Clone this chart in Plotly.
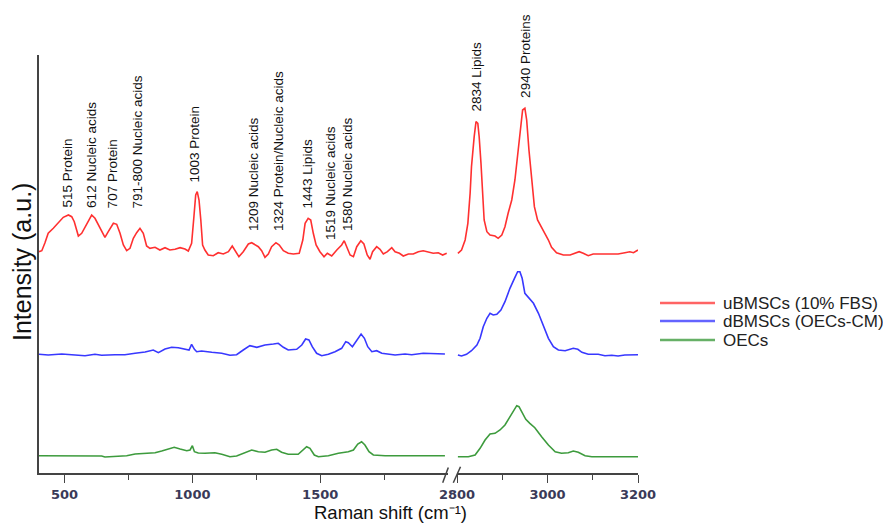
import plotly.graph_objects as go

# ---------------- data (intensity in arbitrary units) ----------------
red_left_x = [400, 411, 423, 436, 456, 476, 495, 515, 528, 538, 554, 567, 580, 593, 606, 619, 632, 645, 658, 671,
              691, 704, 717, 730, 743, 756, 769, 782, 795, 808, 821, 834, 854, 873, 893, 912, 932, 952, 971, 984,
              997, 1006, 1013, 1019, 1026, 1033, 1040, 1049, 1062, 1082, 1101, 1121, 1141, 1156, 1167, 1182, 1199,
              1219, 1232, 1245, 1258, 1271, 1284, 1297, 1310, 1327, 1340, 1356, 1375, 1395, 1418, 1432, 1441, 1453,
              1463, 1473, 1484, 1499, 1515, 1528, 1545, 1565, 1584, 1594, 1604, 1617, 1630, 1643, 1659, 1671, 1684,
              1695, 1705, 1721, 1734, 1747, 1763, 1780, 1793, 1810, 1825, 1845, 1864, 1884, 1903, 1923, 1942, 1962,
              1979, 1995]
red_left_y = [221.3, 222.3, 230, 239.7, 244.7, 250.3, 255.7, 258, 256.3, 251.3, 237, 239.7, 246.3, 253, 258, 254.7,
              248, 241.3, 235.7, 241.3, 249.7, 248.7, 239.7, 228, 222.3, 224.7, 234.7, 240.3, 244.7, 239.7, 227,
              224.7, 225.7, 223, 225.3, 223, 223.7, 225.3, 224, 222, 229.7, 256.3, 278, 281.3, 273, 253, 228, 223,
              218, 217.3, 220.3, 219, 221.3, 227, 222.3, 216.3, 221.3,
              229, 230.3, 228, 226.3, 222.3, 215.7, 219, 226.3, 230.3, 228, 222.3, 219.7, 219, 219.7, 233, 249.7,
              254.7, 253, 239.7, 228, 221.3, 216.3, 219.7, 217, 223, 228, 232.3, 226.3, 218, 216.3, 226.3, 232.3,
              229, 218, 213.7, 221.3, 226.3, 223.7, 219, 221.3, 225.3, 221.3, 219.7, 217, 219, 219, 221.3, 222.3,
              221.3, 219.7, 220.3, 218, 219.7]
red_right_x = [2802, 2810, 2818, 2824, 2829, 2832, 2838, 2842, 2846, 2849, 2853, 2857, 2860, 2866, 2873, 2884, 2891,
               2899, 2906, 2913, 2921, 2928, 2934, 2940, 2945, 2950, 2954, 2959, 2965, 2971, 2978, 2987, 2994, 3002,
               3009, 3020, 3035, 3050, 3061, 3070, 3079, 3090, 3101, 3127, 3156, 3171, 3182, 3190, 3200]
red_right_y = [219.7, 223, 233, 249.7, 279.7, 306.3, 336.3, 351.3, 349.7, 336.3, 309.7, 276.3, 253, 241.3, 238, 237,
               234.7, 238, 246.3, 259.7, 273, 293, 316.3, 343, 363, 364.7, 353, 323, 293, 266.3, 253, 246.3, 239.7,
               233, 225.7, 220.3, 218, 218, 219.7, 221.3, 219.7, 217.3, 219, 219, 219, 220.3, 221.3, 220.3, 223]

blue_left_x = [400, 436, 489, 541, 580, 619, 645, 697, 736, 776, 815, 847, 867, 893, 919, 945, 971, 987, 997, 1008,
               1017, 1036, 1076, 1115, 1147, 1173, 1199, 1225, 1252, 1284, 1317, 1336, 1356, 1375, 1408, 1428, 1443,
               1456, 1469, 1486, 1506, 1532, 1558, 1584, 1600, 1610, 1626, 1643, 1660, 1673, 1686, 1702, 1721, 1741,
               1767, 1793, 1832, 1858, 1903, 1949, 1988]
blue_left_y = [118.7, 118, 119, 118, 117.3, 118.7, 117.7, 118.3, 118.3, 119.7, 121, 123, 120.3, 124, 125.7, 125.3,
               123.7, 123, 128.7, 123.7, 121.3, 122, 120.7, 119.7, 117.7, 118.3, 123, 127.3, 125.7, 128, 129, 129.7,
               125.7, 123, 123.7, 128, 134, 133, 126.3, 119.7, 117.3, 118.7, 121.3, 124.7, 131.3, 130.3, 126.3, 133,
               139, 134.7, 126.3, 121.3, 122.3, 119.7, 118.7, 118, 119, 118.3, 119.7, 119, 119]
blue_right_x = [2802, 2810, 2821, 2832, 2844, 2851, 2858, 2866, 2873, 2880, 2888, 2897, 2906, 2917, 2927, 2934, 2939,
                2944, 2950, 2958, 2969, 2980, 2991, 3002, 3013, 3024, 3039, 3050, 3057, 3067, 3076, 3090, 3112, 3127,
                3142, 3156, 3171, 3200]
blue_right_y = [118, 117, 118.7, 122.3, 128, 134.7, 146.3, 154.7, 159.7, 158, 158.7, 163, 171.3, 184.7, 194.7, 201.3,
                201.3, 194.7, 179.7, 175.3, 169.7, 159.7, 148, 134.7, 126.3, 123, 122.3, 123.7, 124.7, 123.7, 120.7,
                118.7, 118.7, 117.3, 117.7, 117, 118, 118.3]

green_left_x = [400, 515, 645, 658, 743, 776, 815, 854, 880, 906, 929, 952, 978, 991, 1000, 1008, 1023, 1049, 1088,
                1115, 1147, 1173, 1199, 1232, 1258, 1284, 1310, 1330, 1349, 1375, 1414, 1434, 1447, 1460, 1477, 1493,
                1532, 1571, 1610, 1630, 1647, 1662, 1675, 1691, 1708, 1754, 1884, 1988]
green_left_y = [17.3, 17.3, 17, 16, 17.3, 19, 19.7, 20.3, 22, 24, 25.7, 24, 22.3, 23, 27.3, 21.3, 20, 19.7, 20.3,
                18.7, 16.3, 17, 19.7, 23, 21.3, 20.7, 23, 23.7, 20.7, 18.7, 18.7, 23, 26.3, 24.7, 18, 16.3, 17.3,
                19.7, 21.3, 23, 29, 31.3, 28, 21.3, 18, 17.3, 17.3, 17.3]
green_right_x = [2802, 2825, 2840, 2851, 2862, 2873, 2884, 2895, 2906, 2917, 2927, 2932, 2937, 2944, 2952, 2961, 2972,
                 2987, 3002, 3017, 3031, 3046, 3057, 3068, 3083, 3098, 3200]
green_right_y = [16.3, 16.3, 18, 24.7, 33, 39, 39.7, 43, 48, 56.3, 64.7, 67.3, 66.3, 59.7, 53.7, 49.7, 45.3, 36.3, 28,
                 21.3, 19.7, 20.3, 22, 20.7, 17.3, 16.3, 16.3]

series_names = ["uBMSCs (10% FBS)", "dBMSCs (OECs-CM)", "OECs"]

# peak labels: text, wavenumber position, height of the label's lower end, axis
peak_texts = ["515 Protein", "612 Nucleic acids", "707 Protein", "791-800 Nucleic acids", "1003 Protein",
              "1209 Nucleic acids", "1324 Protein/Nucleic acids", "1443 Lipids", "1519 Nucleic acids",
              "1580 Nucleic acids", "2834 Lipids", "2940 Proteins"]
peak_x = [510, 603, 689, 787, 1010, 1237, 1335, 1452, 1538, 1605, 2844, 2950]
peak_y = [263, 263, 263, 263, 289, 240, 240, 263, 231, 240, 360, 373]
peak_axis = ["x", "x", "x", "x", "x", "x", "x", "x", "x", "x", "x2", "x2"]

left_ticks = [500, 1000, 1500]
left_minor = [750, 1250, 1750]
right_ticks = [2800, 3000, 3200]
right_minor = [2900, 3100]

# ---------------- styling ----------------
W, H = 883, 523
ML, MR, MT, MB = 39, 245, 55, 50
PW = W - ML - MR
PH = H - MT - MB


def px(xpix):
    return (xpix - ML) / PW


def py(ypix):
    return (H - MB - ypix) / PH


colors = ["#ff3030", "#3838ff", "#3d9b3d"]
legend_colors = ["#ff6464", "#6464ff", "#66b066"]
axis_color = "#444444"
text_font = "Liberation Sans, Arial, sans-serif"

fig = go.Figure()
segments = [
    (red_left_x, red_left_y, red_right_x, red_right_y),
    (blue_left_x, blue_left_y, blue_right_x, blue_right_y),
    (green_left_x, green_left_y, green_right_x, green_right_y),
]
for (lx, ly, rx, ry), c, n in zip(segments, colors, series_names):
    fig.add_trace(go.Scatter(x=lx, y=ly, mode="lines", line=dict(color=c, width=1.6), name=n,
                             showlegend=False, xaxis="x", yaxis="y"))
    fig.add_trace(go.Scatter(x=rx, y=ry, mode="lines", line=dict(color=c, width=1.6), name=n,
                             showlegend=False, xaxis="x2", yaxis="y"))

tickfont = dict(family="DejaVu Sans", size=13, color="#3a3a58", weight="bold")
common_x = dict(showline=True, linecolor=axis_color, linewidth=1.5, ticks="outside", ticklen=8,
                tickwidth=1.3, tickcolor=axis_color, showgrid=False, zeroline=False, tickfont=tickfont,
                tickmode="array", ticklabelstandoff=1)

fig.update_layout(
    width=W, height=H,
    margin=dict(l=ML, r=MR, t=MT, b=MB),
    plot_bgcolor="white", paper_bgcolor="white",
    showlegend=False,
    xaxis=dict(domain=[0, px(448)], range=[400, 2000], tickvals=left_ticks,
               minor=dict(tickmode="array", tickvals=left_minor, ticklen=5, tickwidth=1.3,
                          tickcolor=axis_color, ticks="outside"),
               anchor="y", **common_x),
    xaxis2=dict(domain=[px(457), 1], range=[2800, 3200], tickvals=right_ticks,
                minor=dict(tickmode="array", tickvals=right_minor, ticklen=5, tickwidth=1.3,
                           tickcolor=axis_color, ticks="outside"),
                anchor="y", **common_x),
    yaxis=dict(domain=[0, 1], range=[0, PH], showline=True, linecolor=axis_color, linewidth=1.5,
               ticks="", showticklabels=False, showgrid=False, zeroline=False, anchor="x"),
)

label_font = dict(family=text_font, size=13.5, color="#111111")
for t, x, y, ax in zip(peak_texts, peak_x, peak_y, peak_axis):
    fig.add_annotation(text=t, x=x, y=y, xref=ax, yref="y", textangle=-90, showarrow=False,
                       xanchor="center", yanchor="bottom", font=label_font)

# axis titles
fig.add_annotation(text="Intensity (a.u.)", xref="paper", yref="paper", x=px(22), y=py(262),
                   textangle=-90, showarrow=False, xanchor="center", yanchor="middle",
                   font=dict(family=text_font, size=25, color="#111111"))
fig.add_annotation(text="Raman shift (cm⁻¹)", xref="paper", yref="paper", x=px(390), y=py(512.5),
                   showarrow=False, xanchor="center", yanchor="middle",
                   font=dict(family=text_font, size=18.5, color="#111111"))

# axis break marks
for x0, y0, x1, y1 in [(442.7, 482.7, 448.3, 467.5), (453.3, 482.7, 460.5, 466.7)]:
    fig.add_shape(type="line", xref="paper", yref="paper", x0=px(x0), y0=py(y0), x1=px(x1), y1=py(y1),
                  line=dict(color=axis_color, width=1.5))
# white gap between break marks
fig.add_shape(type="line", xref="paper", yref="paper", x0=px(449), y0=py(473), x1=px(455), y1=py(473),
              line=dict(color="white", width=3))

# manual legend
leg_y = [303, 321, 340]
for n, c, yy in zip(series_names, legend_colors, leg_y):
    fig.add_shape(type="line", xref="paper", yref="paper", x0=px(660), x1=px(715), y0=py(yy), y1=py(yy),
                  line=dict(color=c, width=2.6))
    fig.add_annotation(text=n, xref="paper", yref="paper", x=px(721), y=py(yy), showarrow=False,
                       xanchor="left", yanchor="middle",
                       font=dict(family=text_font, size=17, color="#222222"))

fig.write_html("out.html", config={"displayModeBar": False},
               post_script="document.body.style.margin='0';document.body.style.overflow='hidden';")
